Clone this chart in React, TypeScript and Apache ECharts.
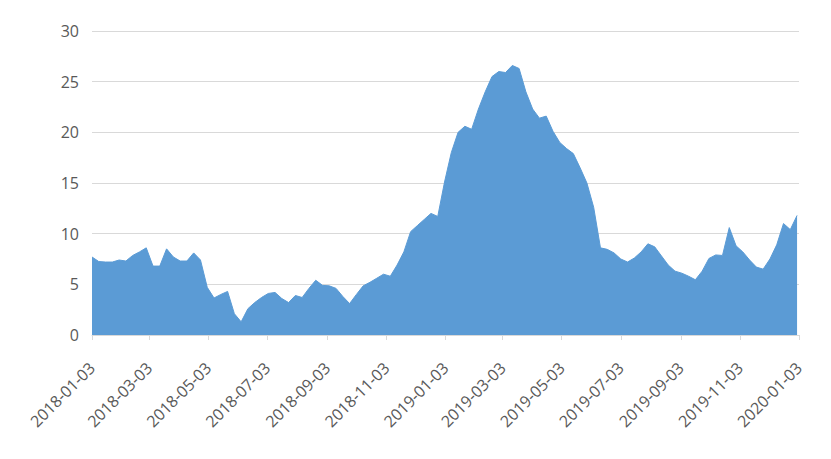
import React, { useEffect, useRef } from "react";
import * as echarts from "echarts";

const axisStart = "2018-01-03";
const axisEnd = "2020-01-03";
const seriesStart = "2018-01-03";
const seriesStepDays = 7;

const tickLabels = [
  "2018-01-03", "2018-03-03", "2018-05-03", "2018-07-03", "2018-09-03",
  "2018-11-03", "2019-01-03", "2019-03-03", "2019-05-03", "2019-07-03",
  "2019-09-03", "2019-11-03", "2020-01-03",
];

const values = [
  7.7, 7.25, 7.2, 7.2, 7.4, 7.3, 7.85, 8.2, 8.6, 6.8,
  6.8, 8.5, 7.7, 7.3, 7.3, 8.1, 7.4, 4.7, 3.65, 4.0,
  4.3, 2.1, 1.3, 2.6, 3.2, 3.7, 4.1, 4.2, 3.6, 3.2,
  3.9, 3.7, 4.6, 5.4, 4.9, 4.85, 4.6, 3.8, 3.1, 4.0,
  4.85, 5.2, 5.6, 6.0, 5.8, 6.9, 8.2, 10.2, 10.8, 11.4,
  12.0, 11.7, 15.1, 18.0, 20.0, 20.6, 20.3, 22.3, 24.0, 25.5,
  26.0, 25.9, 26.6, 26.3, 24.0, 22.3, 21.4, 21.6, 20.1, 19.0,
  18.4, 17.9, 16.5, 15.0, 12.6, 8.6, 8.45, 8.1, 7.5, 7.2,
  7.6, 8.2, 9.0, 8.7, 7.8, 6.9, 6.3, 6.1, 5.8, 5.45,
  6.3, 7.55, 7.9, 7.85, 10.6, 8.8, 8.2, 7.4, 6.7, 6.5,
  7.5, 8.9, 11.0, 10.4, 11.8,
];

const yMin = 0;
const yMax = 30;
const yInterval = 5;

const DAY = 86400000;
const toDate = (s: string) => new Date(s + "T00:00:00Z");
const fmt = (d: Date) => d.toISOString().slice(0, 10);

function dailyCategories(a: string, b: string): string[] {
  const out: string[] = [];
  const end = toDate(b).getTime();
  for (let t = toDate(a).getTime(); t <= end; t += DAY) out.push(fmt(new Date(t)));
  return out;
}

export default function App() {
  const ref = useRef<HTMLDivElement>(null);

  useEffect(() => {
    if (!ref.current) return;
    const chart = echarts.init(ref.current, undefined, { renderer: "svg" });
    const categories = dailyCategories(axisStart, axisEnd);
    const startT = toDate(seriesStart).getTime();
    const seriesData = values.map((v, i) => [
      fmt(new Date(startT + i * seriesStepDays * DAY)),
      v,
    ]);
    const tickSet = new Set(tickLabels);
    const showAt = (_i: number, val: string) => tickSet.has(val);
    const font = "'Open Sans', 'Liberation Sans', sans-serif";

    chart.setOption({
      animation: false,
      backgroundColor: "#ffffff",
      grid: { left: 92, right: 32, top: 31, bottom: 124 },
      xAxis: {
        type: "category",
        data: categories,
        boundaryGap: false,
        axisLine: { show: true, lineStyle: { color: "#d9d9d9", width: 1 } },
        axisTick: {
          show: true,
          interval: showAt,
          length: 5,
          lineStyle: { color: "#d9d9d9" },
        },
        axisLabel: {
          interval: showAt,
          rotate: 45,
          margin: 30,
          color: "#595959",
          fontSize: 16,
          fontFamily: font,
        },
        splitLine: { show: false },
      },
      yAxis: {
        type: "value",
        min: yMin,
        max: yMax,
        interval: yInterval,
        axisLine: { show: false },
        axisTick: { show: false },
        axisLabel: {
          color: "#595959",
          fontSize: 16,
          fontFamily: font,
          margin: 13,
        },
        splitLine: { show: true, lineStyle: { color: "#d9d9d9", width: 1 } },
      },
      series: [
        {
          type: "line",
          data: seriesData,
          symbol: "none",
          smooth: false,
          lineStyle: { color: "#5b9bd5", width: 1 },
          areaStyle: { color: "#5b9bd5", opacity: 1 },
          itemStyle: { color: "#5b9bd5" },
        },
      ],
    });

    return () => chart.dispose();
  }, []);

  return (
    <div
      ref={ref}
      style={{
        position: "fixed",
        left: 0,
        top: 0,
        width: 831,
        height: 459,
        background: "#ffffff",
      }}
    />
  );
}
